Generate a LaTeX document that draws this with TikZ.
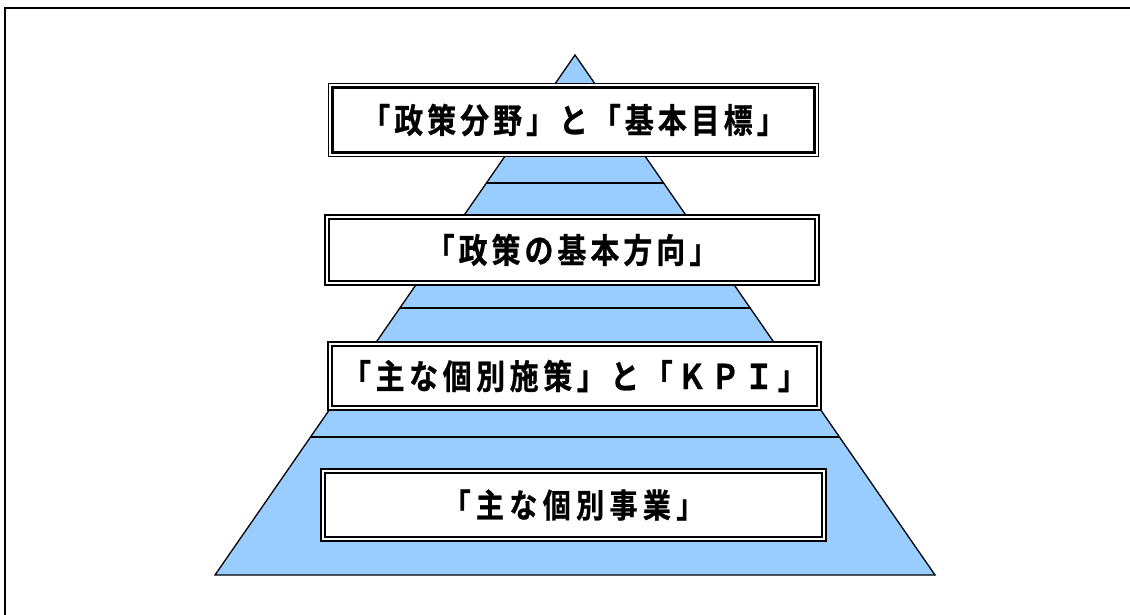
\documentclass[tikz,border=0pt]{standalone}
\usepackage{fontspec}
\usetikzlibrary{calc}
\newfontfamily\jp[LetterSpace=14,BoldFont={Noto Sans CJK JP Bold},BoldFeatures={FakeBold=0.8}]{Noto Sans CJK JP}
\newfontfamily\jpw[LetterSpace=16,BoldFont={Noto Sans CJK JP Bold},BoldFeatures={FakeBold=0.8}]{Noto Sans CJK JP}
\newfontfamily\jpn[LetterSpace=19,BoldFont={Noto Sans CJK JP Bold},BoldFeatures={FakeBold=0.8}]{Noto Sans CJK JP}
\definecolor{pyrblue}{HTML}{99CCFF}
\tikzset{
  lvlbox/.style={draw=black, line width=1.2pt, fill=white, inner sep=0pt},
  lvltext/.style={font=\jp\bfseries\fontsize{34}{36}\selectfont, inner sep=0pt},
  lvltextw/.style={font=\jpw\bfseries\fontsize{34}{36}\selectfont, inner sep=0pt},
  lvltextn/.style={font=\jpn\bfseries\fontsize{33}{35}\selectfont, inner sep=0pt},
  innerline/.style={draw=black, line width=2.6pt},
  pyr/.style={draw=black, line width=1.3pt, fill=pyrblue, line join=miter},
  tier/.style={draw=black, line width=1.3pt},
  frame/.style={draw=black, line width=2.2pt}
}
\newcommand{\dblbox}[6]{%
  \node[lvlbox, minimum width=#3, minimum height=#4] (#1) at #2 {};
  \draw[innerline] ([shift={(4.6pt,-4.6pt)}]#1.north west) rectangle ([shift={(-4.6pt,4.6pt)}]#1.south east);
  \node[#6] (#1t) at (#1.center) {\scalebox{0.85}[1]{#5}};
}
\begin{document}
\begin{tikzpicture}[x=1pt,y=1pt]
\useasboundingbox (0,0) rectangle (1130,614);
\fill[white] (0,0) rectangle (1130,614);
% outer frame (continues past right and bottom)
\coordinate (ftl) at (5,606);
\coordinate (ftr) at (1135,606);
\coordinate (fbl) at (5,-5);
\draw[frame] (fbl) -- (ftl) -- (ftr);
% pyramid
\coordinate (apex) at (575,559);
\coordinate (bl) at (215,39);
\coordinate (br) at (935,39);
\draw[pyr] (apex) -- (br) -- (bl) -- cycle;
% tier lines
\coordinate (t1l) at ($(apex)!0.2462!(bl)$);
\coordinate (t1r) at ($(apex)!0.2462!(br)$);
\coordinate (t2l) at ($(apex)!0.4865!(bl)$);
\coordinate (t2r) at ($(apex)!0.4865!(br)$);
\coordinate (t3l) at ($(apex)!0.7346!(bl)$);
\coordinate (t3r) at ($(apex)!0.7346!(br)$);
\draw[tier] (t1l) -- (t1r);
\draw[tier] (t2l) -- (t2r);
\draw[tier] (t3l) -- (t3r);
% boxes
\dblbox{b1}{(573.5,494)}{490pt}{73pt}{「政策分野」と「基本目標」}{lvltext}
\dblbox{b2}{(572,364)}{494pt}{70pt}{「政策の基本方向」}{lvltext}
\dblbox{b3}{(574.5,238)}{493pt}{68pt}{「主な個別施策」と「ＫＰＩ」}{lvltextw}
\dblbox{b4}{(573.5,109)}{505pt}{72pt}{「主な個別事業」}{lvltextn}
\end{tikzpicture}
\end{document}
